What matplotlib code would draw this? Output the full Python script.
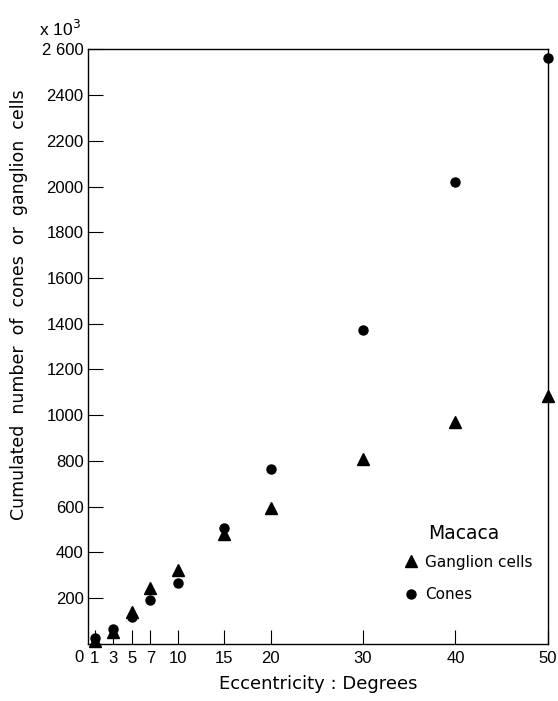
import numpy as np
import matplotlib
matplotlib.use("Agg")
import matplotlib.pyplot as plt
import matplotlib.transforms as mtransforms

plt.rcParams['font.family'] = ['Liberation Sans', 'DejaVu Sans']

# excentricidad (grados) y numero acumulado (x 10^3)
eccentricity = [1, 3, 5, 7, 10, 15, 20, 30, 40, 50]
ganglion = [10, 50, 140, 242, 322, 478, 595, 808, 969, 1084]
cones = [26, 63, 118, 191, 264, 508, 765, 1373, 2022, 2562]

x_ticks = [1, 3, 5, 7, 10, 15, 20, 30, 40, 50]
y_ticks = [200, 400, 600, 800, 1000, 1200, 1400, 1600, 1800, 2000, 2200, 2400, 2600]
y_tick_labels = ['200', '400', '600', '800', '1000', '1200', '1400', '1600',
                 '1800', '2000', '2200', '2400', '2 600']

fig = plt.figure(figsize=(5.58, 7.01), dpi=100)
ax = fig.add_axes([0.1575, 0.0817, 0.8245, 0.8477])

ax.plot(eccentricity, ganglion, linestyle='none', marker='^', ms=9,
        color='black', label='Ganglion cells', clip_on=False)
ax.plot(eccentricity, cones, linestyle='none', marker='o', ms=6.5,
        color='black', label='Cones', clip_on=False)

ax.set_xlim(0.25, 50)
ax.set_ylim(0, 2600)
ax.set_xticks(x_ticks)
ax.set_xticklabels([str(v) for v in x_ticks])
ax.set_yticks(y_ticks)
ax.set_yticklabels(y_tick_labels)

ax.tick_params(axis='x', direction='in', length=10, width=0.8, pad=5, labelsize=12)
ax.tick_params(axis='y', direction='in', length=11, width=0.8, pad=3, labelsize=12)
for s in ax.spines.values():
    s.set_linewidth(1.0)

# el cero del eje x va a la izquierda de la esquina
trans = mtransforms.blended_transform_factory(ax.transData, ax.transAxes)
ax.text(-0.7, -0.0227, '0', transform=trans, ha='center', va='center',
        fontsize=12, clip_on=False)

ax.set_xlabel('Eccentricity : Degrees', fontsize=13, family='DejaVu Sans',
              labelpad=7)
ax.set_ylabel('Cumulated  number  of  cones  or  ganglion  cells', fontsize=12.5,
              family='DejaVu Sans')
ax.yaxis.set_label_coords(-0.131, 0.57)

fig.text(0.108, 0.958, r'x 10$^3$', fontsize=12.5, ha='center', va='center')

ax.text(0.739, 0.186, 'Macaca', transform=ax.transAxes, fontsize=13.5,
        family='DejaVu Sans', ha='left', va='center')
ax.legend(loc='upper left', bbox_to_anchor=(0.686, 0.15), frameon=False,
          prop={'family': 'DejaVu Sans', 'size': 11}, handlelength=1.0,
          handletextpad=0.4, labelspacing=1.15, borderpad=0, borderaxespad=0)

fig.savefig('out.png', dpi=100)
